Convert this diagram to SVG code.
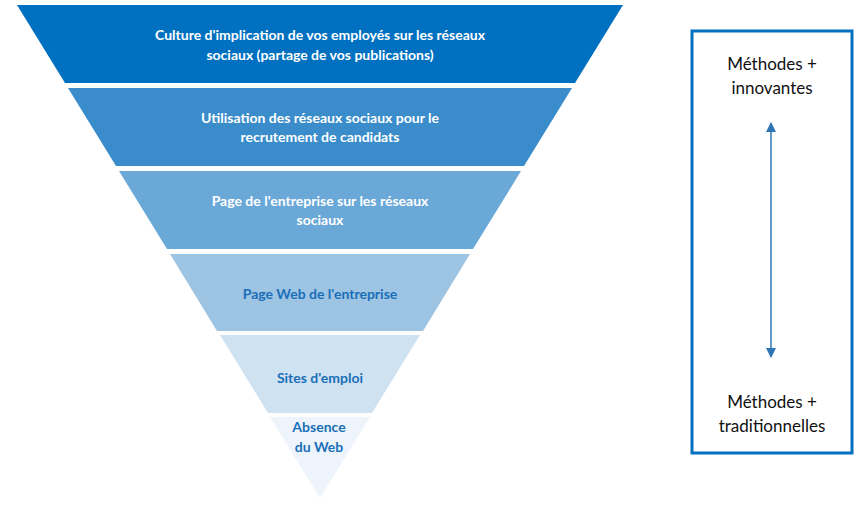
<svg xmlns="http://www.w3.org/2000/svg" width="867" height="511" viewBox="0 0 867 511">
<style>
.t{font-family:Lato,"Open Sans",sans-serif;font-weight:bold;font-size:14px;text-anchor:middle}
.w{fill:#fff}.b{fill:#1A6FB8}
.r{font-family:Lato,"Open Sans",sans-serif;font-size:17px;text-anchor:middle;fill:#111}
</style>
<defs><marker id="a" viewBox="0 0 10 10" refX="9" refY="5" markerWidth="10" markerHeight="10" markerUnits="userSpaceOnUse" orient="auto-start-reverse"><path d="M0,0L10,5L0,10z" fill="#2E75B6"/></marker></defs>
<rect width="867" height="511" fill="#fff"/>
<g id="n1"><polygon points="17,5 623,5 575,83 65,83" fill="#0070C0"/><text class="t w" x="320" y="40">Culture d'implication de vos employés sur les réseaux</text><text class="t w" x="320" y="60">sociaux (partage de vos publications)</text></g>
<g id="n2"><polygon points="68,88 572,88 524,166 116,166" fill="#3A8DCA"/><text class="t w" x="320" y="123">Utilisation des réseaux sociaux pour le</text><text class="t w" x="320" y="142">recrutement de candidats</text></g>
<g id="n3"><polygon points="119,171 521,171 473,249 167,249" fill="#69A8D7"/><text class="t w" x="320" y="206">Page de l'entreprise sur les réseaux</text><text class="t w" x="320" y="225">sociaux</text></g>
<g id="n4"><polygon points="170,254 470,254 423,331 217,331" fill="#9DC4E3"/><text class="t b" x="320" y="299">Page Web de l'entreprise</text></g>
<g id="n5"><polygon points="220,335 420,335 372,413 268,413" fill="#CFE2F2"/><text class="t b" x="320" y="383">Sites d'emploi</text></g>
<g id="n6"><polygon points="270,417 370,417 320,498" fill="#EEF4FB"/><text class="t b" x="319" y="432">Absence</text><text class="t b" x="319" y="452">du Web</text></g>
<g id="legend"><rect x="692" y="31" width="160" height="422" fill="none" stroke="#0070C0" stroke-width="3"/><text class="r" x="772" y="70">Méthodes +</text><text class="r" x="772" y="94">innovantes</text><text class="r" x="772" y="408">Méthodes +</text><text class="r" x="772" y="432">traditionnelles</text></g>
<g id="connectors"><line x1="771" y1="123" x2="771" y2="357" stroke="#2E75B6" stroke-width="1.5" marker-start="url(#a)" marker-end="url(#a)"/></g>
</svg>
